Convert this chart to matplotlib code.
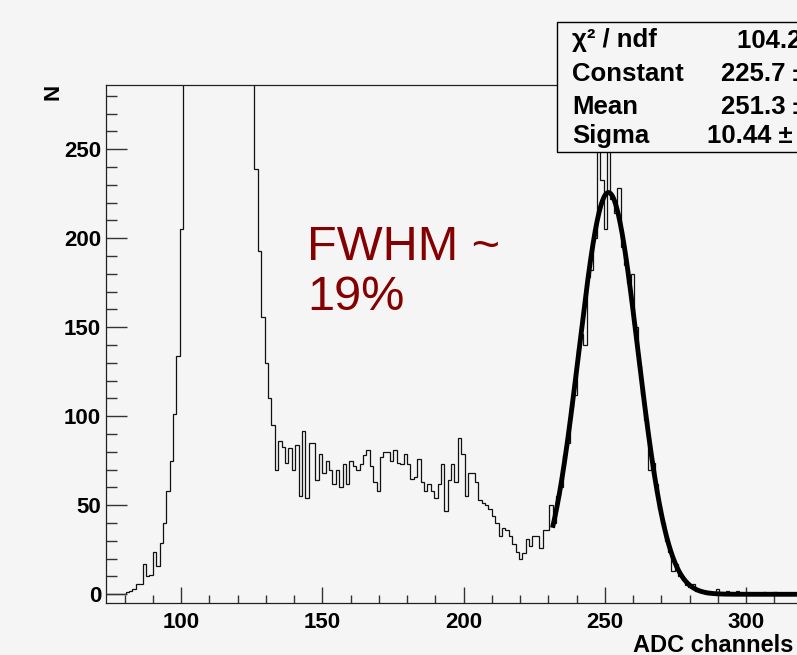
import numpy as np
import matplotlib
matplotlib.use('agg')
import matplotlib.pyplot as plt
from matplotlib.patches import Rectangle
from matplotlib.ticker import MultipleLocator

plt.rcParams['font.family'] = ['Liberation Sans', 'DejaVu Sans']
plt.rcParams['font.weight'] = 'bold'

# histogram: 1.2-channel bins starting at 73.2
hist_lo = 73.2
bin_w = 1.2
counts = [
    0, 0, 0, 0, 0, 0,
    1, 2, 3, 6, 6, 17, 10, 11, 24, 16, 29, 40, 58, 75, 101, 134, 205,
    380, 520, 610, 590, 480, 400, 360, 340, 330, 320, 330, 340, 360, 390,
    420, 460, 520, 560, 540, 470, 350,
    239, 193, 156, 130, 110, 95,
    70, 86, 83, 74, 82, 70, 84, 55, 92, 54,
    85, 85, 64, 79, 68, 75, 70, 62, 70, 60,
    73, 62, 75, 72, 70, 73, 78, 81, 72, 63,
    58, 77, 80, 80, 75, 81, 74, 73, 79, 73,
    65, 66, 76, 63, 58, 62, 58, 54, 62, 73,
    47, 64, 73, 63, 88, 79, 55, 68, 68, 63,
    53, 51, 50, 48, 44, 40, 33, 37, 36, 33,
    28, 24, 20, 23, 31, 27, 33, 33, 26, 36,
    36, 50,
    40, 55, 60, 78, 85, 105, 112, 138,
    146, 140, 178, 182, 200, 262, 233, 205, 262, 222,
    214, 228, 195, 185, 175, 180, 150, 128, 112, 98,
    70, 74, 62, 48, 40, 30, 24, 13, 17, 10,
    8, 5, 4, 6, 2, 1, 1, 0, 0, 0,
    3, 0, 0, 2, 0, 0, 2, 0, 0, 0,
    0, 0, 0, 0, 1, 0, 0, 1, 0, 0,
    0, 0, 0, 0, 0,
]

# gaussian fit result
fit_const = 225.7
fit_mean = 251.3
fit_sigma = 10.44
fit_range = (231.5, 330.0)

stat_names = ['\u03c7\u00b2 / ndf', 'Constant', 'Mean', 'Sigma']
stat_values = ['104.2 / 62', '225.7 \u00b1 3.2', '251.3 \u00b1 0.1', '10.44 \u00b1 0.09']

W, H = 797, 655
bg = '#f5f5f5'

fig = plt.figure(figsize=(W / 100, H / 100), dpi=100, facecolor=bg)
ax = fig.add_axes([106 / W, 1 - 603 / H, 694 / W, 518 / H], facecolor=bg)

edges = hist_lo + bin_w * np.arange(len(counts) + 1)
ax.stairs(counts, edges, color='#111111', lw=0.9, baseline=None)

xf = np.linspace(fit_range[0], fit_range[1], 600)
yf = fit_const * np.exp(-0.5 * ((xf - fit_mean) / fit_sigma) ** 2)
ax.plot(xf, yf, color='black', lw=3.5, solid_capstyle='butt')

ax.set_xlim(73.45, 319.1)
ax.set_ylim(-4.9, 286.1)

ax.xaxis.set_major_locator(MultipleLocator(50))
ax.xaxis.set_minor_locator(MultipleLocator(10))
ax.yaxis.set_major_locator(MultipleLocator(50))
ax.yaxis.set_minor_locator(MultipleLocator(10))
ax.tick_params(which='both', direction='in', width=1, color='#333333', labelsize=16)
ax.tick_params(axis='x', which='major', length=11.5, pad=6.5)
ax.tick_params(axis='x', which='minor', length=5.8)
ax.tick_params(axis='y', which='major', length=15, pad=3.5)
ax.tick_params(axis='y', which='minor', length=7.7)
for s in ax.spines.values():
    s.set_linewidth(0.9)
    s.set_color('#222222')

# axis titles (ROOT style, at the end of the axes)
fig.text(53.5 / W, 1 - 91.5 / H, 'N', rotation=90, ha='center', va='center', fontsize=16)
fig.text(633 / W, 1 - 646 / H, 'ADC channels', ha='left', va='center', fontsize=17)

# annotation
fig.text(307 / W, 1 - 260 / H, 'FWHM ~', color='#850000', fontsize=35,
         fontweight='normal', va='baseline')
fig.text(307 / W, 1 - 310 / H, '19%', color='#850000', fontsize=35,
         fontweight='normal', va='baseline')

# stats box
box = Rectangle((557 / W, 1 - 152 / H), 300 / W, 130 / H, transform=fig.transFigure,
                facecolor=bg, edgecolor='black', lw=1.0, zorder=5)
fig.add_artist(box)
name_y = [47, 81, 114, 143]
value_x = [737, 721, 721, 707]
for nm, val, yy, vx in zip(stat_names, stat_values, name_y, value_x):
    fig.text(572 / W, 1 - yy / H, nm, fontsize=18.5, va='baseline', zorder=6)
    fig.text(vx / W, 1 - yy / H, val, fontsize=18.5, va='baseline', zorder=6)

fig.savefig('out.png', dpi=100, facecolor=bg)
